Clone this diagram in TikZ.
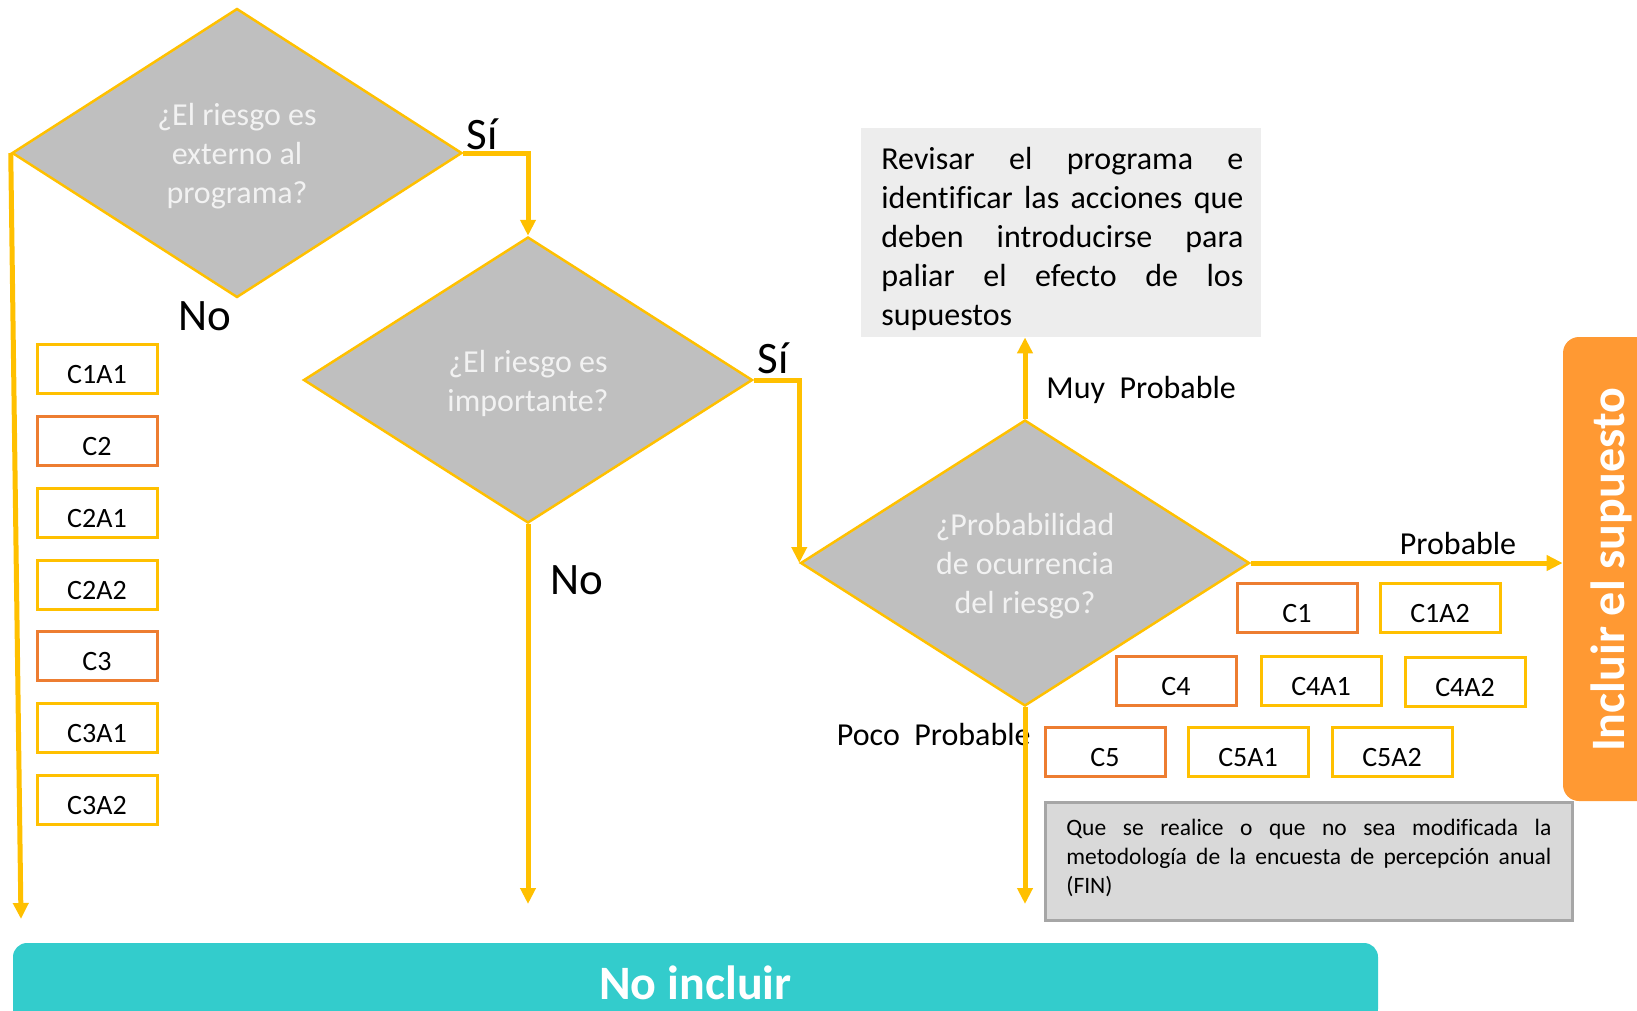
\documentclass[tikz,border=0pt]{standalone}
\usepackage{fontspec}
\setmainfont[Ligatures=NoCommon]{Carlito}
\usetikzlibrary{shapes.geometric,arrows.meta}
\definecolor{flow}{HTML}{FFC000}
\definecolor{corange}{HTML}{ED7D31}
\definecolor{dgray}{HTML}{BFBFBF}
\definecolor{dtext}{HTML}{F2F2F2}
\definecolor{revfill}{HTML}{EDEDED}
\definecolor{gfill}{HTML}{D9D9D9}
\definecolor{gborder}{HTML}{A6A6A6}
\definecolor{inclfill}{HTML}{FF9933}
\definecolor{nofill}{HTML}{33CCCC}
% one fully justified line of a given width
\newcommand\jline[2]{\leavevmode\hbox to #1{#2}}
\begin{document}
\begin{tikzpicture}[x=0.5pt,y=-0.5pt,
  decision/.style={diamond, draw=flow, line width=1.25pt, fill=dgray, inner sep=0pt, shape aspect=1.56},
  dtxt/.style={inner sep=0pt, text=dtext, align=center, font=\fontsize{16}{19.5}\selectfont},
  tag/.style={draw, line width=1.5pt, fill=white, minimum width=60pt, minimum height=24.5pt,
    inner sep=0pt, text=black, text height=14pt, text depth=0pt, font=\fontsize{14}{16}\selectfont},
  comp/.style={tag, draw=corange},
  act/.style={tag, draw=flow},
  flowline/.style={draw=flow, line width=2.5pt, -{Triangle[length=8pt,width=7.5pt]}},
  bigl/.style={inner sep=0pt, font=\fontsize{22.5}{27}\selectfont},
  smalll/.style={inner sep=0pt, font=\fontsize{16}{19.5}\selectfont}]
\useasboundingbox (0,0) rectangle (1637,1011);
\clip (0,0) rectangle (1637,1011);

% decisions
\node[decision, minimum width=225pt, minimum height=144.5pt] (q1) at (237,153) {};
\node[decision, minimum width=224.5pt, minimum height=143pt] (q2) at (528,380) {};
\node[decision, minimum width=224.5pt, minimum height=143pt] (q3) at (1025,563) {};
\node[dtxt] (q1t) at ([yshift=-1.75pt]q1.center) {¿El riesgo es\\externo al\\programa?};
\node[dtxt] (q2t) at ([yshift=-1.75pt]q2.center) {¿El riesgo es\\importante?};
\node[dtxt] (q3t) at ([yshift=-1.75pt]q3.center) {¿Probabilidad\\de ocurrencia\\del riesgo?};

% outcome boxes
\node[fill=revfill, minimum width=200pt, minimum height=104.5pt, inner sep=0pt] (rev) at (1061,232.5) {};
\node[anchor=north west, inner sep=0pt, text width=181pt, align=left,
  font=\fontsize{16}{19.5}\selectfont] (revtxt) at (881,147)
  {\jline{181pt}{Revisar\hfill el\hfill programa\hfill e}\\
   \jline{181pt}{identificar\hfill las\hfill acciones\hfill que}\\
   \jline{181pt}{deben\hfill introducirse\hfill para}\\
   \jline{181pt}{paliar\hfill el\hfill efecto\hfill de\hfill los}\\
   supuestos};

\node[fill=gfill, draw=gborder, line width=1.5pt, minimum width=263.5pt, minimum height=59pt, inner sep=0pt] (gbox) at (1308.5,861) {};
\node[anchor=north west, inner sep=0pt, text width=242.5pt, align=left,
  font=\fontsize{11.75}{14.4}\selectfont] (gtxt) at (1066,819)
  {\jline{242.5pt}{Que\hfill se\hfill realice\hfill o\hfill que\hfill no\hfill sea\hfill modificada\hfill la}\\
   \jline{242.5pt}{metodología\hfill de\hfill la\hfill encuesta\hfill de\hfill percepción\hfill anual}\\
   (FIN)};

\node[fill=inclfill, rounded corners=8pt, minimum width=58.5pt, minimum height=232pt, inner sep=0pt] (incl) at (1621.5,569) {};
\node[rotate=90, inner sep=0pt, text=white, font=\bfseries\fontsize{24}{28}\selectfont] (incltxt) at (1611,570) {Incluir el supuesto};

\node[fill=nofill, rounded corners=7pt, minimum width=682.5pt, minimum height=40pt, inner sep=0pt,
  text=white, font=\bfseries\fontsize{24}{28}\selectfont] (noinc) at (695.5,983) {No incluir};

% left column of components and activities
\node[act]  (c1a1) at (97,369) {C1A1};
\node[comp] (c2)   at (97,441) {C2};
\node[act]  (c2a1) at (97,513) {C2A1};
\node[act]  (c2a2) at (97,585) {C2A2};
\node[comp] (c3)   at (97,656) {C3};
\node[act]  (c3a1) at (97,728) {C3A1};
\node[act]  (c3a2) at (97,800) {C3A2};

% right group
\node[comp] (c1)   at (1297,608) {C1};
\node[act]  (c1a2) at (1440,608) {C1A2};
\node[comp] (c4)   at (1176,681) {C4};
\node[act]  (c4a1) at (1321,681) {C4A1};
\node[act]  (c4a2) at (1465,682) {C4A2};
\node[comp] (c5)   at (1105,752) {C5};
\node[act]  (c5a1) at (1248,752) {C5A1};
\node[act]  (c5a2) at (1392,752) {C5A2};

% branch labels
\node[bigl] (si1) at (482,134) {Sí};
\node[bigl] (no1) at (205,316) {No};
\node[bigl] (si2) at (773,358) {Sí};
\node[bigl] (no2) at (577,580) {No};
\node[smalll, anchor=west] (muy) at (1046,390) {Muy\ \ Probable};
\node[smalll] (prob) at (1458,544) {Probable};
\node[smalll, anchor=east] (poco) at (1031,734) {Poco\ \ Probable};

% connectors
\coordinate (endA) at (21,919);
\coordinate (endB) at (528,904);
\coordinate (endC) at (1025,904);
\draw[flowline] (q1.east) -| (q2.north);
\draw[flowline] (q2.east) -| (q3.west);
\draw[flowline] (q1.west) -- (endA);
\draw[flowline] (q2.south) -- (endB);
\draw[flowline] (q3.south) -- (endC);
\draw[flowline] (q3.north) -- (q3.north |- rev.south);
\draw[flowline] (q3.east) -- (q3.east -| incl.west);
\end{tikzpicture}
\end{document}
